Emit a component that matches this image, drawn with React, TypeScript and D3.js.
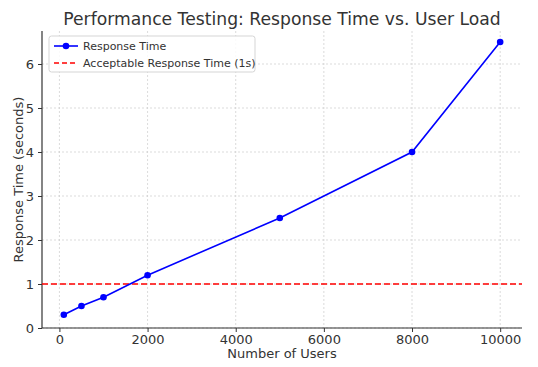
import { useEffect, useRef } from "react";
import * as d3 from "d3";

const users = [100, 500, 1000, 2000, 5000, 8000, 10000];
const responseTimes = [0.3, 0.5, 0.7, 1.2, 2.5, 4.0, 6.5];
const acceptableTime = 1;
const xTicks = [0, 2000, 4000, 6000, 8000, 10000];
const yTicks = [0, 1, 2, 3, 4, 5, 6];
const legendLabels = ["Response Time", "Acceptable Response Time (1s)"];

export default function App() {
  const svgRef = useRef<SVGSVGElement | null>(null);

  useEffect(() => {
    const svgEl = svgRef.current;
    if (!svgEl) return;
    const width = 538;
    const height = 367;
    const margin = { top: 31, right: 16, bottom: 39, left: 42 };
    const innerW = width - margin.left - margin.right;
    const innerH = height - margin.top - margin.bottom;
    const font = "DejaVu Sans, sans-serif";
    const textColor = "#333";

    const svg = d3.select(svgEl);
    svg.selectAll("*").remove();
    svg.attr("width", width).attr("height", height).style("font-family", font);

    const x = d3.scaleLinear().domain([-395, 10495]).range([0, innerW]);
    const y = d3.scaleLinear().domain([0, 6.75]).range([innerH, 0]);

    const g = svg.append("g").attr("transform", `translate(${margin.left},${margin.top})`);

    // grid
    g.append("g")
      .selectAll("line.vg")
      .data(xTicks)
      .enter()
      .append("line")
      .attr("x1", (d) => x(d))
      .attr("x2", (d) => x(d))
      .attr("y1", 0)
      .attr("y2", innerH)
      .attr("stroke", "#ccc")
      .attr("stroke-width", 0.7)
      .attr("stroke-dasharray", "2,2");
    g.append("g")
      .selectAll("line.hg")
      .data(yTicks)
      .enter()
      .append("line")
      .attr("x1", 0)
      .attr("x2", innerW)
      .attr("y1", (d) => y(d))
      .attr("y2", (d) => y(d))
      .attr("stroke", "#ccc")
      .attr("stroke-width", 0.7)
      .attr("stroke-dasharray", "2,2");

    // axes
    const xAxis = g
      .append("g")
      .attr("transform", `translate(0,${innerH})`)
      .call(d3.axisBottom(x).tickValues(xTicks).tickSize(4).tickPadding(3).tickFormat(d3.format("d")));
    const yAxis = g
      .append("g")
      .call(d3.axisLeft(y).tickValues(yTicks).tickSize(4).tickPadding(4).tickFormat(d3.format("d")));
    [xAxis, yAxis].forEach((a) => {
      a.selectAll("text").attr("font-size", 13).attr("fill", textColor).style("font-family", font);
      a.selectAll(".tick line").attr("stroke", textColor);
      a.select(".domain").attr("stroke", textColor).attr("stroke-width", 1.2);
    });
    xAxis.select(".domain").attr("d", `M0,0H${innerW}`);
    yAxis.select(".domain").attr("d", `M0,${innerH}V0`);

    // threshold line
    g.append("line")
      .attr("x1", 0)
      .attr("x2", innerW)
      .attr("y1", y(acceptableTime))
      .attr("y2", y(acceptableTime))
      .attr("stroke", "red")
      .attr("stroke-width", 1.6)
      .attr("stroke-dasharray", "6,3");

    const pts = users.map((u, i) => ({ u, t: responseTimes[i] }));
    const line = d3
      .line<{ u: number; t: number }>()
      .x((p) => x(p.u))
      .y((p) => y(p.t));
    g.append("path")
      .datum(pts)
      .attr("fill", "none")
      .attr("stroke", "blue")
      .attr("stroke-width", 1.6)
      .attr("d", line as any);
    g.selectAll("circle.pt")
      .data(pts)
      .enter()
      .append("circle")
      .attr("cx", (p) => x(p.u))
      .attr("cy", (p) => y(p.t))
      .attr("r", 3.3)
      .attr("fill", "blue");

    // legend
    const lg = g.append("g").attr("transform", "translate(7,5)");
    lg.append("rect")
      .attr("width", 206)
      .attr("height", 36)
      .attr("rx", 2.5)
      .attr("fill", "white")
      .attr("fill-opacity", 0.85)
      .attr("stroke", "#d5d5d5");
    lg.append("line").attr("x1", 5).attr("x2", 29).attr("y1", 10).attr("y2", 10).attr("stroke", "blue").attr("stroke-width", 1.6);
    lg.append("circle").attr("cx", 17).attr("cy", 10).attr("r", 3.3).attr("fill", "blue");
    lg.append("line")
      .attr("x1", 5)
      .attr("x2", 29)
      .attr("y1", 27)
      .attr("y2", 27)
      .attr("stroke", "red")
      .attr("stroke-width", 1.6)
      .attr("stroke-dasharray", "5,3");
    legendLabels.forEach((label, i) => {
      lg.append("text")
        .attr("x", 34)
        .attr("y", 10 + i * 17)
        .attr("dy", "0.35em")
        .attr("font-size", 11)
        .attr("fill", textColor)
        .text(label);
    });

    // titles
    svg.append("text")
      .attr("x", margin.left + innerW / 2)
      .attr("y", 25)
      .attr("text-anchor", "middle")
      .attr("font-size", 17.2)
      .attr("fill", textColor)
      .text("Performance Testing: Response Time vs. User Load");
    svg.append("text")
      .attr("x", margin.left + innerW / 2)
      .attr("y", 358)
      .attr("text-anchor", "middle")
      .attr("font-size", 13)
      .attr("fill", textColor)
      .text("Number of Users");
    svg.append("text")
      .attr("transform", `translate(23,${margin.top + innerH / 2}) rotate(-90)`)
      .attr("text-anchor", "middle")
      .attr("font-size", 13)
      .attr("fill", textColor)
      .text("Response Time (seconds)");
  }, []);

  return (
    <div style={{ position: "absolute", left: 0, top: 0 }}>
      <svg ref={svgRef} />
    </div>
  );
}
